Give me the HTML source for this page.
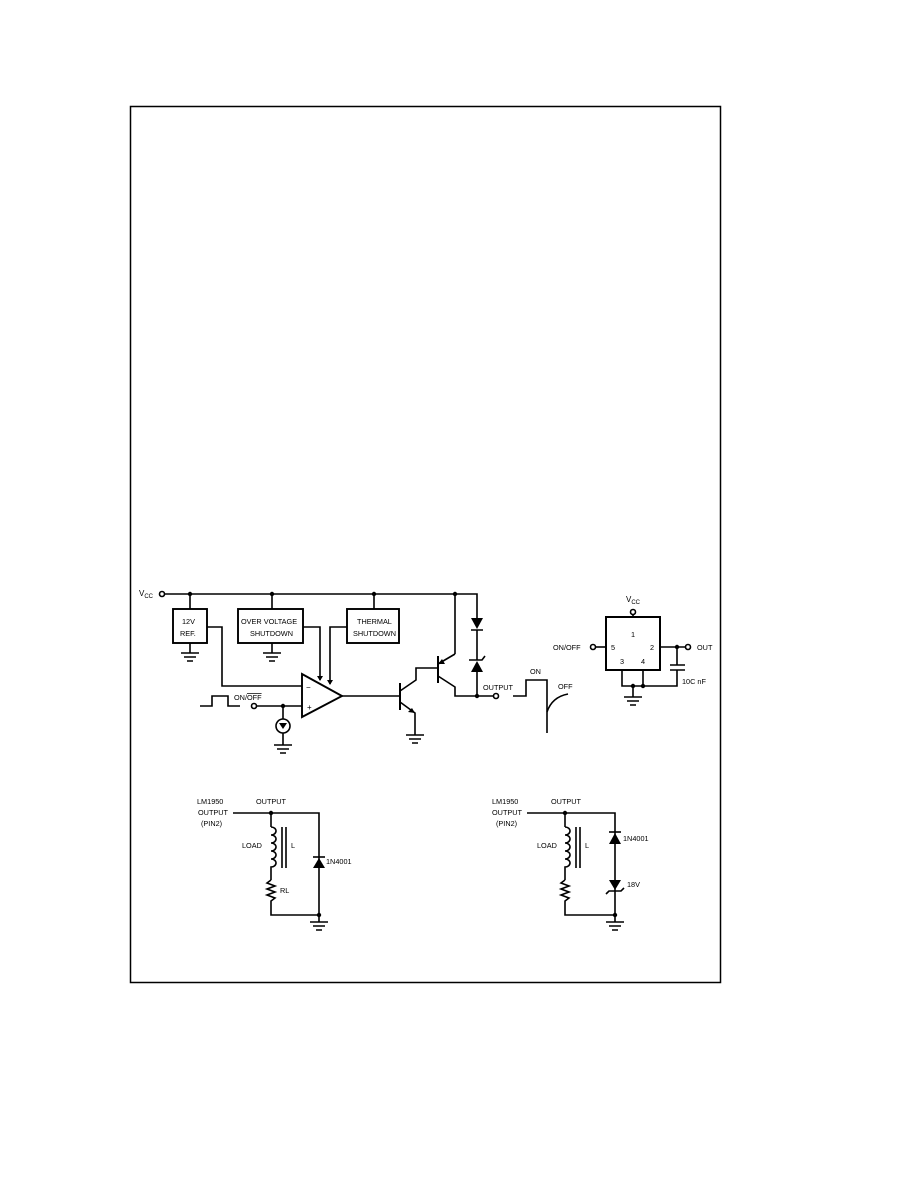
<!DOCTYPE html>
<html><head><meta charset="utf-8"><style>
html,body{margin:0;padding:0;background:#fff;}
svg{display:block;}
text{font-family:"Liberation Sans",sans-serif;font-size:8px;fill:#000;}
.s{font-size:7.3px;}
</style></head><body>
<svg width="918" height="1188" viewBox="0 0 918 1188" xmlns="http://www.w3.org/2000/svg">
<rect x="130.5" y="106.5" width="590" height="876" fill="none" stroke="#000" stroke-width="1.5"/>
<g stroke="#000" stroke-width="1.6" fill="none">
<circle cx="162" cy="594" r="2.5" fill="#fff"/>
<path d="M164.5 594 H477 V618"/>
<path d="M190 594 V609 M272 594 V609 M374 594 V609 M455 594 V654"/>
<rect x="173" y="609" width="34" height="34" stroke-width="1.9"/>
<rect x="238" y="609" width="65" height="34" stroke-width="1.9"/>
<rect x="347" y="609" width="52" height="34" stroke-width="1.9"/>
<path d="M190 643 V653 M181 653 H199 M184 657 H196 M187 661 H193"/>
<path d="M272 643 V653 M263 653 H281 M266 657 H278 M269 661 H275"/>
<path d="M207 627 H222 V686 H302"/>
<path d="M303 627 H320 V680"/>
<path d="M347 627 H330 V684"/>
<path d="M302 674 L342 696 L302 717 Z" stroke-width="1.9"/>
<path d="M342 696 H400"/>
<path d="M200 706 H212 V696 H228 V706 H240"/>
<circle cx="254" cy="706" r="2.5" fill="#fff"/>
<path d="M256.5 706 H302"/>
<path d="M283 706 V719"/>
<circle cx="283" cy="726" r="7"/>
<path d="M283 733 V745 M274 745 H292 M277 749 H289 M280 753 H286"/>
<path d="M400 683 V710" stroke-width="2"/>
<path d="M400 691 L416 680 V668 H437"/>
<path d="M400 702 L415 713 V735 M406 735 H424 M409 739 H421 M412 743 H418"/>
<path d="M438 656 V683" stroke-width="2"/>
<path d="M438 664 L455 654"/>
<path d="M438 676 L455 687 V696 H477"/>
<circle cx="496" cy="696" r="2.5" fill="#fff"/>
<path d="M477 696 H493.5"/>
<path d="M477 630 V660 M477 672 V696"/>
<path d="M471 630 H483 M469 660 L472 660 M472 660 H482 L485 656"/>
<path d="M513 696 H526 V680 H547 V733"/>
<path d="M547 712 Q552 697 568 694"/>
<rect x="606" y="617" width="54" height="53" stroke-width="2"/>
<circle cx="633" cy="612" r="2.5" fill="#fff"/>
<path d="M633 614.5 V617"/>
<circle cx="593" cy="647" r="2.5" fill="#fff"/>
<path d="M595.5 647 H606"/>
<path d="M660 647 H685.5"/>
<circle cx="688" cy="647" r="2.5" fill="#fff"/>
<path d="M677 647 V665 M670 665 H685 M670 670 H685 M677 670 V686 H622 V670 M643 670 V686"/>
<path d="M633 686 V697 M624 697 H642 M627 701 H639 M630 705 H636"/>
<path d="M233 813 H319 V915 H271 V902"/>
<path d="M271 813 V827"/>
<path d="M271 827 a5 4 0 1 1 0 8 a5 4 0 1 1 0 8 a5 4 0 1 1 0 8 a5 4 0 1 1 0 8 a5 4 0 1 1 0 8 V880"/>
<path d="M282 827 V868 M286 827 V868"/>
<path d="M271 880 l-4 3 l8 3 l-8 3 l8 3 l-8 3 l8 3 l-4 3 V902"/>
<path d="M313 857 H325"/>
<path d="M319 915 V922 M310 922 H328 M313 926 H325 M316 930 H322"/>
<path d="M527 813 H615 V915 H565 V902"/>
<path d="M565 813 V827"/>
<path d="M565 827 a5 4 0 1 1 0 8 a5 4 0 1 1 0 8 a5 4 0 1 1 0 8 a5 4 0 1 1 0 8 a5 4 0 1 1 0 8 V880"/>
<path d="M576 827 V868 M580 827 V868"/>
<path d="M565 880 l-4 3 l8 3 l-8 3 l8 3 l-8 3 l8 3 l-4 3 V902"/>
<path d="M609 832 H621"/>
<path d="M606 894 L609 891 H621 L624 888"/>
<path d="M615 915 V922 M606 922 H624 M609 926 H621 M612 930 H618"/>
</g>
<g fill="#000">
<circle cx="190" cy="594" r="2.2"/><circle cx="272" cy="594" r="2.2"/><circle cx="374" cy="594" r="2.2"/><circle cx="455" cy="594" r="2.2"/>
<circle cx="283" cy="706" r="2.2"/><circle cx="477" cy="696" r="2.2"/>
<circle cx="677" cy="647" r="2.2"/><circle cx="633" cy="686" r="2.2"/><circle cx="643" cy="686" r="2.2"/>
<circle cx="271" cy="813" r="2.2"/><circle cx="319" cy="915" r="2.2"/>
<circle cx="565" cy="813" r="2.2"/><circle cx="615" cy="915" r="2.2"/>
<path d="M317 676 L320 681 L323 676 Z"/>
<path d="M327 680 L330 685 L333 680 Z"/>
<path d="M279 723 L287 723 L283 729 Z"/>
<path d="M415 713 L408 712 L412 708 Z"/>
<path d="M438 664 L442 659 L445 664 Z"/>
<path d="M471 618 L483 618 L477 629 Z"/>
<path d="M471 672 L483 672 L477 661 Z"/>
<path d="M313 868 L325 868 L319 858 Z"/>
<path d="M609 844 L621 844 L615 833 Z"/>
<path d="M609 880 L621 880 L615 890 Z"/>
</g>
<g>
<text x="139" y="596">V<tspan font-size="6" dy="2">CC</tspan></text>
<text class="s" x="182" y="624">12V</text><text class="s" x="180" y="636">REF.</text>
<text class="s" x="241" y="624">OVER VOLTAGE</text><text class="s" x="250" y="636">SHUTDOWN</text>
<text class="s" x="357" y="624">THERMAL</text><text class="s" x="353" y="636">SHUTDOWN</text>
<text x="306" y="690" font-size="9">−</text><text x="307" y="710" font-size="7">+</text>
<text class="s" x="234" y="700">ON/<tspan text-decoration="overline">OFF</tspan></text>
<text class="s" x="483" y="690">OUTPUT</text>
<text class="s" x="530" y="674">ON</text><text class="s" x="558" y="689">OFF</text>
<text x="626" y="602">V<tspan font-size="6" dy="2">CC</tspan></text>
<text class="s" x="631" y="637">1</text><text class="s" x="611" y="650">5</text><text class="s" x="650" y="650">2</text>
<text class="s" x="620" y="664">3</text><text class="s" x="641" y="664">4</text>
<text class="s" x="553" y="650">ON/OFF</text><text class="s" x="697" y="650">OUT</text>
<text class="s" x="682" y="684">10C nF</text>
<text class="s" x="197" y="804">LM1950</text><text class="s" x="198" y="815">OUTPUT</text><text class="s" x="201" y="826">(PIN2)</text>
<text class="s" x="256" y="804">OUTPUT</text>
<text class="s" x="242" y="848">LOAD</text><text class="s" x="291" y="848">L</text><text class="s" x="280" y="893">RL</text>
<text class="s" x="326" y="864">1N4001</text>
<text class="s" x="492" y="804">LM1950</text><text class="s" x="492" y="815">OUTPUT</text><text class="s" x="496" y="826">(PIN2)</text>
<text class="s" x="551" y="804">OUTPUT</text>
<text class="s" x="537" y="848">LOAD</text><text class="s" x="585" y="848">L</text>
<text class="s" x="623" y="841">1N4001</text><text class="s" x="627" y="887">18V</text>
</g>
</svg>
</body></html>
